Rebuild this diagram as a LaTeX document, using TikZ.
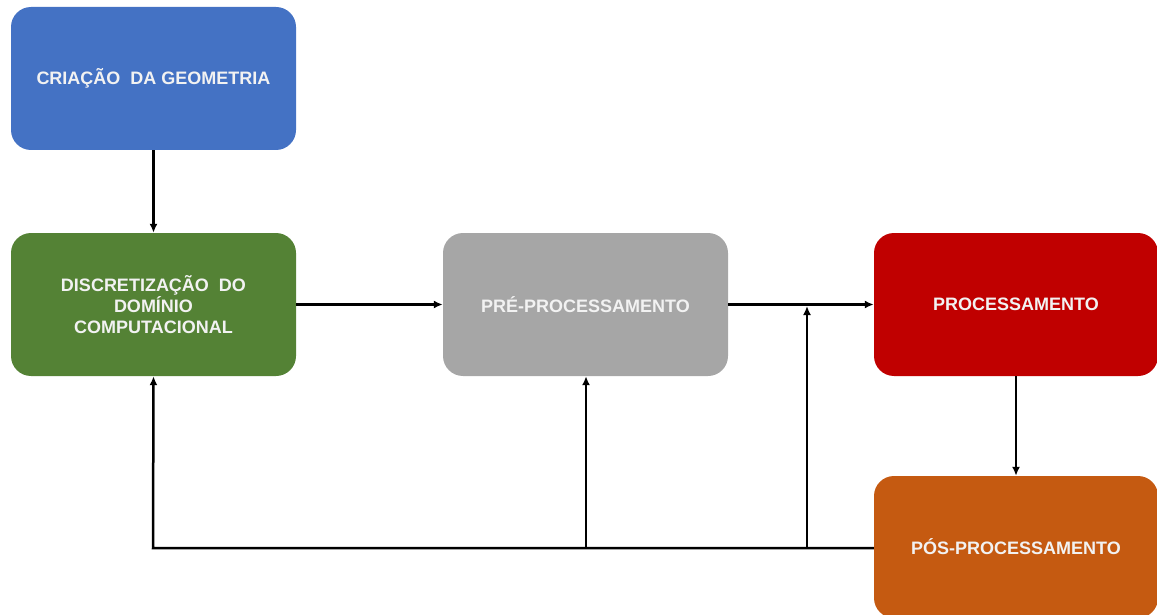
\documentclass[tikz,border=0pt]{standalone}
\usepackage{fontspec}
\setmainfont{Liberation Sans}
\usetikzlibrary{arrows.meta}
\definecolor{cblue}{HTML}{4472C4}
\definecolor{cgreen}{HTML}{548235}
\definecolor{cgray}{HTML}{A6A6A6}
\definecolor{cred}{HTML}{C00000}
\definecolor{corange}{HTML}{C55A11}
\definecolor{ctext}{HTML}{F2F2F2}
\begin{document}
\begin{tikzpicture}[x=1pt,y=-1pt,
  box/.style={rounded corners=20pt, minimum width=285pt, minimum height=143pt, inner sep=0pt,
    text=ctext, font=\bfseries\fontsize{18}{21}\selectfont, align=center},
  conn/.style={line width=2.5pt, -{Latex[length=9pt,width=8pt]}},
  plain/.style={line width=2.5pt}]
\useasboundingbox (0,0) rectangle (1157,615);
\node[box, fill=cblue] (cri) at (153.5,78.5) {CRIAÇÃO\ \ DA GEOMETRIA};
\node[box, fill=cgreen] (dis) at (153.5,304.5) {DISCRETIZAÇÃO\ \ DO\\DOMÍNIO\\COMPUTACIONAL};
\node[box, fill=cgray] (pre) at (585.5,304.5) {PRÉ-PROCESSAMENTO};
\node[box, fill=cred, minimum width=284pt] (pro) at (1016,304.5) {PROCESSAMENTO};
\node[box, fill=corange, minimum width=284pt, minimum height=142pt] (pos) at (1016,547) {PÓS-PROCESSAMENTO};
\coordinate (j1) at (586,548);
\coordinate (j2) at (807,548);
\coordinate (j3) at (153,548);
\coordinate (t2) at (807,306);
\draw[conn] (cri.south) -- (dis.north);
\draw[conn] (dis.east) -- (pre.west);
\draw[conn] (pre.east) -- (pro.west);
\draw[conn] (pro.south) -- (pos.north);
\draw[conn] (pos.west |- j3) -- (j3) -- (dis.south);
\draw[conn] (j1) -- (pre.south -| j1);
\draw[conn] (j2) -- (t2);
\end{tikzpicture}
\end{document}
